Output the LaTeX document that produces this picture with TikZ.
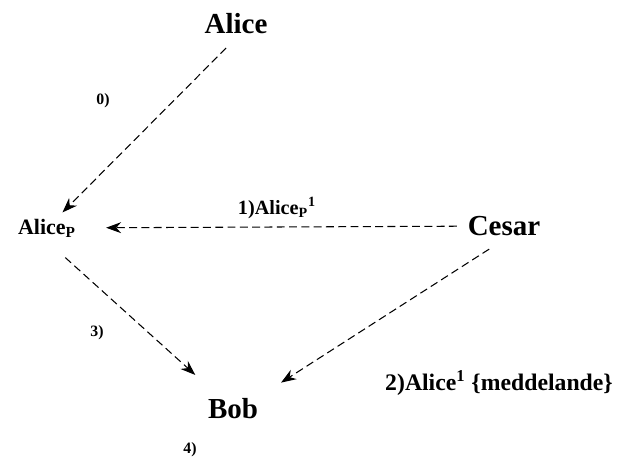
\documentclass[tikz,border=0pt]{standalone}
\usepackage{fontspec}
\setmainfont{Liberation Serif}
\usetikzlibrary{arrows.meta,positioning}

\begin{document}
\begin{tikzpicture}[every node/.style={font=\bfseries, inner sep=2pt},
  party/.style={font=\fontsize{16.5}{18}\selectfont\bfseries},
  msg/.style={font=\fontsize{11.5}{13}\selectfont\bfseries},
  num/.style={font=\fontsize{9}{10}\selectfont\bfseries},
  link/.style={dashed, dash pattern=on 4.5pt off 2.5pt, line width=0.6pt,
    -{Stealth[length=3mm,width=2.2mm]}}]
  \useasboundingbox (0,0) rectangle (12.42,-9.3);
  \node[party] (alice) at (4.72,-0.48) {Alice};
  \node[msg, font=\fontsize{12.5}{14}\selectfont\bfseries] (alicep) at (0.94,-4.56) {Alice$_{\mathbf{P}}$};
  \node[party] (cesar) at (10.08,-4.52) {Cesar};
  \node[party] (bob) at (4.66,-8.18) {Bob};
  \node[num] (l0) at (2.06,-2.02) {0)};
  \node[msg] (l1) at (5.54,-4.16) {1)Alice$_{\mathbf{P}}$$^{\mathbf{1}}$};
  \node[num] (l3) at (1.94,-6.66) {3)};
  \node[msg, font=\fontsize{13.5}{15}\selectfont\bfseries] (l2) at (9.98,-7.66) {2)Alice$^{\mathbf{1}}$ \{meddelande\}};
  \node[num] (l4) at (3.8,-9.0) {4)};
  \draw[link, shorten <=8pt, shorten >=2pt] (alice.south) -- (alicep);
  \draw[link, shorten <=4pt, shorten >=15pt] (cesar) -- (alicep);
  \draw[link, shorten <=14pt, shorten >=17pt] (alicep.south) -- (bob);
  \draw[link, shorten <=10pt, shorten >=13pt] (cesar.south) -- (bob.north east);
\end{tikzpicture}
\end{document}
